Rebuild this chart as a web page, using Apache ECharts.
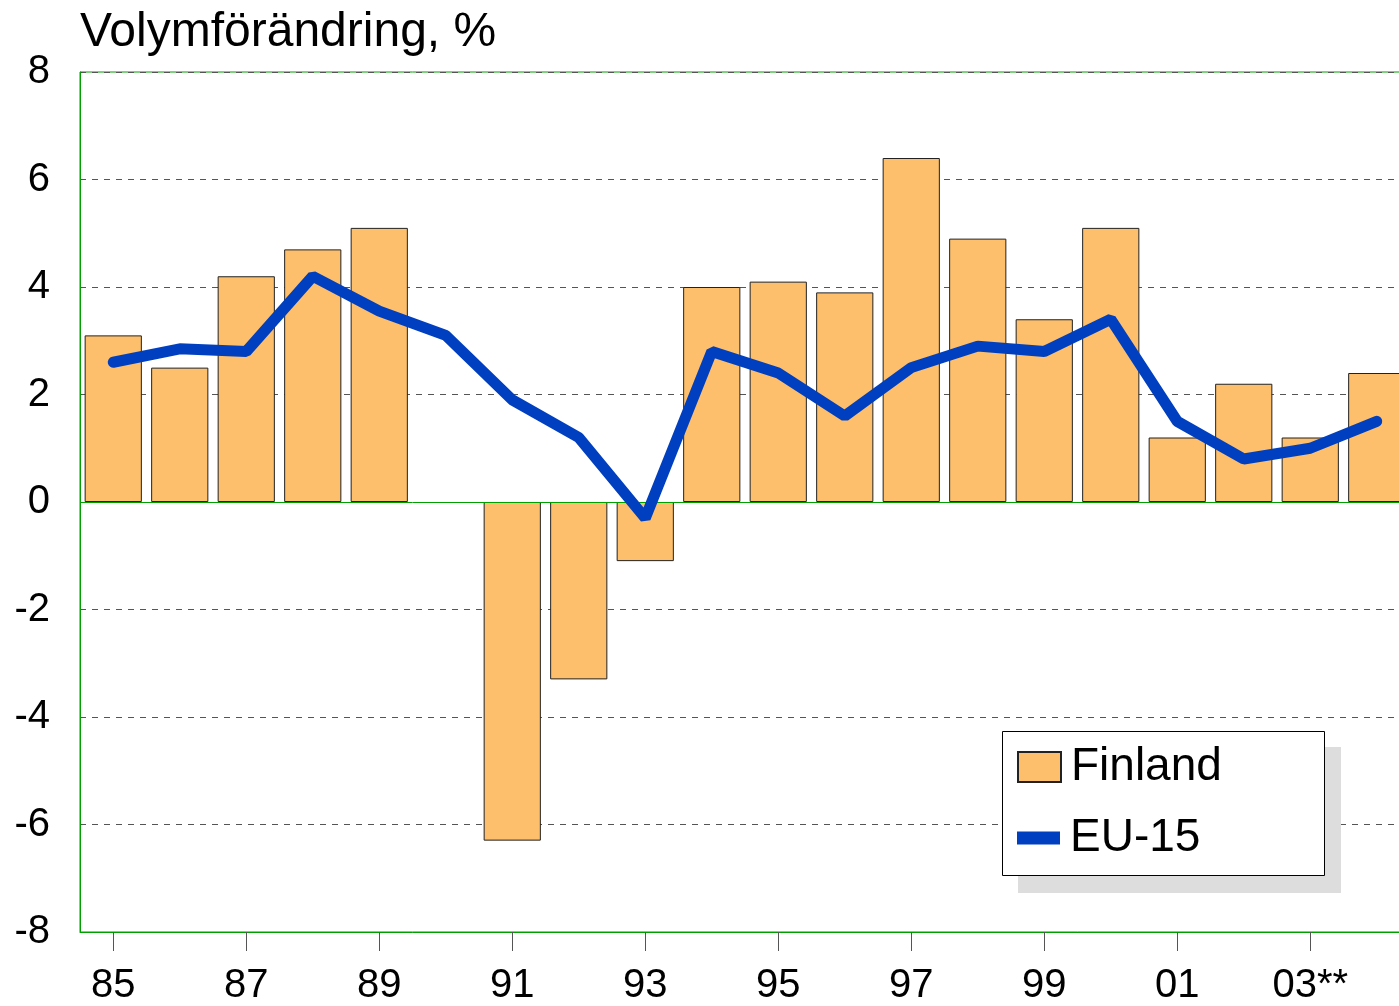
<!DOCTYPE html>
<html>
  <head>
    <meta charset="utf-8">
    <title>Volymförändring</title>
    <script src="https://cdn.jsdelivr.net/npm/echarts@6/dist/echarts.min.js"></script>
    <style type="text/css">
      html, body { margin: 0; padding: 0; background: #fff; overflow: hidden; }
      /* lite bredare än fönstret, sista stapeln klipps i högerkanten */
      #main { width: 1410px; height: 1006px; }
    </style>
  </head>
  <body>
    <div id="main"></div>
    <script type="text/javascript">
      // årtal (x-axeln)
      var years = ['85','86','87','88','89','90','91','92','93','94','95','96','97','98','99','00','01','02','03**','04'];
      // Finland, staplar (90 saknas)
      var finland = [3.1, 2.5, 4.2, 4.7, 5.1, '-', -6.3, -3.3, -1.1, 4.0, 4.1, 3.9, 6.4, 4.9, 3.4, 5.1, 1.2, 2.2, 1.2, 2.4];
      // EU-15, linje
      var eu15 = [2.6, 2.85, 2.8, 4.2, 3.55, 3.1, 1.9, 1.2, -0.3, 2.8, 2.4, 1.6, 2.5, 2.9, 2.8, 3.4, 1.5, 0.8, 1.0, 1.5];

      var green = '#00a000';
      var blue = '#0040c0';
      var myChart = echarts.init(document.getElementById('main'));

      var legendText = { fontSize: 46, lineHeight: 52, color: '#000', padding: [0, 0, 0, 5] };

      var option = {
        animation: false,
        textStyle: { fontFamily: 'Liberation Sans, Arial, sans-serif' },
        title: {
          text: 'Volymförändring, %',
          left: 80, top: 9, padding: 0,
          textStyle: { fontSize: 48, fontWeight: 'normal', color: '#000' }
        },
        grid: {
          left: 80, top: 72, right: 0, bottom: 74,
          show: true, borderColor: green, borderWidth: 1
        },
        legend: [
          {
            left: 1017, top: 741, padding: 0,
            itemWidth: 43, itemHeight: 30,
            textStyle: legendText,
            data: [{ name: 'Finland', icon: 'rect' }]
          },
          {
            left: 1017, top: 812, padding: 0,
            itemWidth: 43, itemHeight: 13,
            textStyle: legendText,
            data: [{ name: 'EU-15', icon: 'rect' }]
          }
        ],
        graphic: [
          { type: 'rect', z: 3, shape: { x: 1018, y: 747, width: 323, height: 146 }, style: { fill: '#dddddd' } },
          { type: 'rect', z: 3, shape: { x: 1002.5, y: 731.5, width: 322, height: 144 }, style: { fill: '#fff', stroke: '#000', lineWidth: 1 } }
        ],
        xAxis: {
          type: 'category',
          data: years,
          axisLine: { onZero: false, lineStyle: { color: green } },
          axisTick: { show: true, interval: 1, alignWithLabel: true, length: 19, lineStyle: { color: '#555' } },
          axisLabel: { interval: 1, fontSize: 40, color: '#000', margin: 34 }
        },
        yAxis: {
          type: 'value',
          min: -8, max: 8, interval: 2,
          axisLine: { show: true, lineStyle: { color: green } },
          axisTick: { show: false },
          axisLabel: { fontSize: 40, color: '#000', margin: 30 },
          splitLine: { lineStyle: { type: [6, 6], color: '#555', width: 1 } }
        },
        series: [
          {
            name: 'Finland',
            type: 'bar',
            data: finland,
            barCategoryGap: '14%',
            itemStyle: { color: '#fdbf6b', borderColor: '#222', borderWidth: 1 },
            markLine: {
              silent: true,
              symbol: 'none',
              label: { show: false },
              lineStyle: { color: green, type: 'solid', width: 1 },
              data: [{ yAxis: 0 }]
            }
          },
          {
            name: 'EU-15',
            type: 'line',
            data: eu15,
            symbol: 'none',
            z: 5,
            itemStyle: { color: blue },
            lineStyle: { color: blue, width: 11, cap: 'round' }
          }
        ]
      };

      myChart.setOption(option);
    </script>
  </body>
</html>
